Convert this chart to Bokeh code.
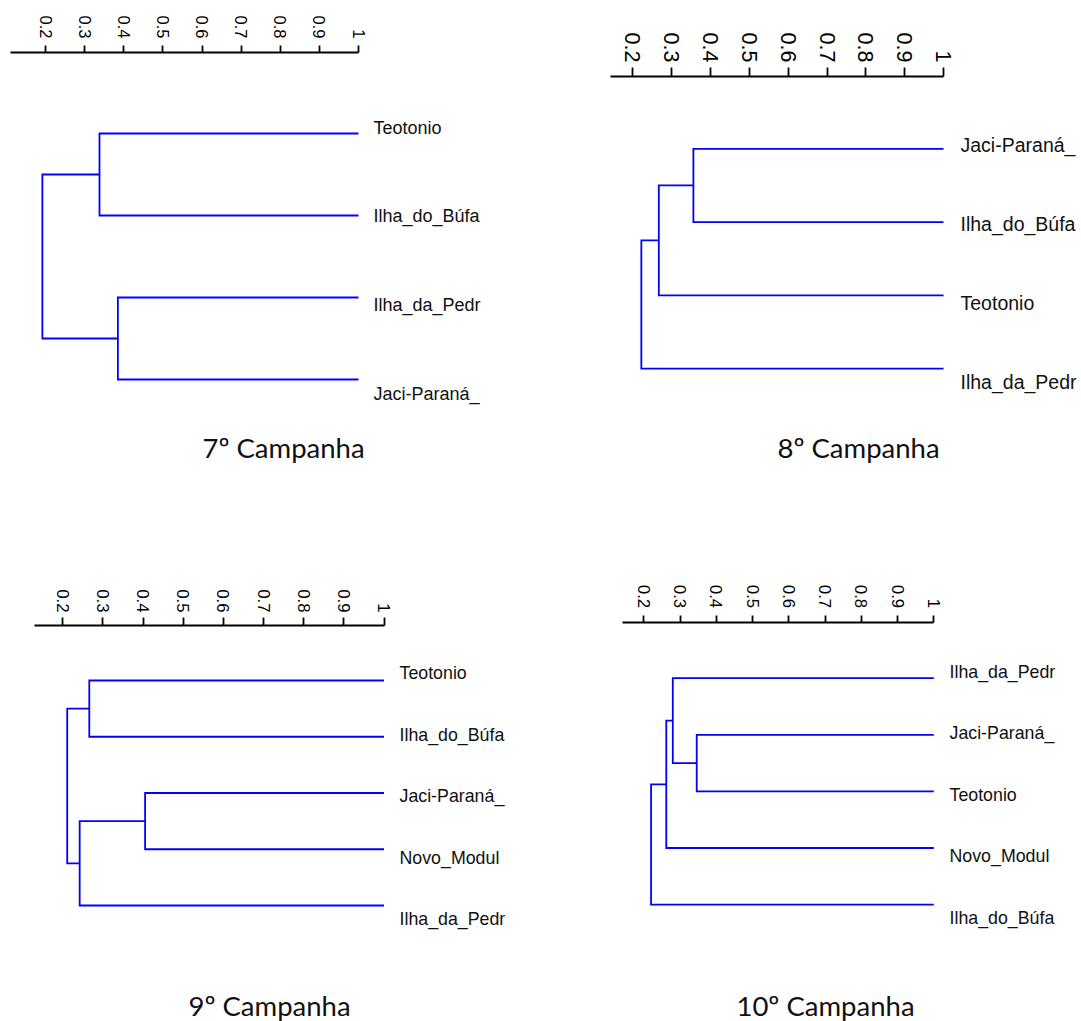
import math
from bokeh.plotting import figure
from bokeh.models import Range1d, FixedTicker, LinearAxis
from bokeh.layouts import column, row
from bokeh.embed import file_html
from bokeh.resources import INLINE
from bokeh.core.properties import value

# ---------------- data ----------------
tick_values = [0.2, 0.3, 0.4, 0.5, 0.6, 0.7, 0.8, 0.9, 1.0]
tick_labels = ["0.2", "0.3", "0.4", "0.5", "0.6", "0.7", "0.8", "0.9", "1"]
leaf_similarity = 1.0

# 7º Campanha
title_7 = "7º Campanha"
leaves_7 = ["Teotonio", "Ilha_do_Búfa", "Ilha_da_Pedr", "Jaci-Paraná_"]
join_a_7 = [0, 2, 4]
join_b_7 = [1, 3, 5]
join_sim_7 = [0.338, 0.385, 0.192]

# 8º Campanha
title_8 = "8º Campanha"
leaves_8 = ["Jaci-Paraná_", "Ilha_do_Búfa", "Teotonio", "Ilha_da_Pedr"]
join_a_8 = [0, 4, 5]
join_b_8 = [1, 2, 3]
join_sim_8 = [0.356, 0.267, 0.222]

# 9º Campanha
title_9 = "9º Campanha"
leaves_9 = ["Teotonio", "Ilha_do_Búfa", "Jaci-Paraná_", "Novo_Modul", "Ilha_da_Pedr"]
join_a_9 = [0, 2, 6, 5]
join_b_9 = [1, 3, 4, 7]
join_sim_9 = [0.266, 0.405, 0.242, 0.211]

# 10º Campanha
title_10 = "10º Campanha"
leaves_10 = ["Ilha_da_Pedr", "Jaci-Paraná_", "Teotonio", "Novo_Modul", "Ilha_do_Búfa"]
join_a_10 = [1, 0, 6, 7]
join_b_10 = [2, 5, 3, 4]
join_sim_10 = [0.346, 0.280, 0.262, 0.220]

LINE_COLOR = "#0000ff"


def build_tree(n, ja, jb, js):
    xs = [leaf_similarity] * n
    ys = list(range(n))
    px, py = [], []
    for a, b, s in zip(ja, jb, js):
        px.append([xs[a], s, s, xs[b]])
        py.append([ys[a], ys[a], ys[b], ys[b]])
        xs.append(s)
        ys.append((ys[a] + ys[b]) / 2.0)
    return px, py


def make_panel(leaves, ja, jb, js, title, L):
    w = L["right"] - L["left"]
    h = L["bottom"] - L["top"]

    def vx(page_x):
        return 0.2 + (page_x - L["x02"]) / L["ppu"]

    def vy(page_y):
        return (page_y - L["y0"]) / L["dy"]

    p = figure(width=int(round(w)), height=int(round(h)),
               output_backend="svg", toolbar_location=None, title=None,
               x_axis_location=None, y_axis_location=None,
               x_range=Range1d(vx(L["left"]), vx(L["right"])),
               y_range=Range1d(vy(L["bottom"]), vy(L["top"])),
               min_border_left=0, min_border_right=0, min_border_bottom=0,
               min_border_top=0)
    p.title_location = None
    p.outline_line_color = None
    p.grid.visible = False
    p.background_fill_color = "white"
    p.border_fill_color = "white"

    ax = LinearAxis(fixed_location=vy(L["axis_y"]))
    ax.ticker = FixedTicker(ticks=tick_values)
    ax.major_label_overrides = {t: s for t, s in zip(tick_values, tick_labels)}
    ax.minor_tick_line_color = None
    ax.major_tick_in = 0
    ax.major_tick_out = L["tick_len"]
    ax.major_label_standoff = L["standoff"]
    ax.major_label_orientation = -math.pi / 2
    ax.major_label_text_font = "Liberation Sans"
    ax.major_label_text_font_size = L["tick_font"]
    ax.major_label_text_color = "black"
    ax.axis_line_color = "black"
    ax.axis_line_width = 1.8
    ax.major_tick_line_color = "black"
    ax.major_tick_line_width = 1.8
    ax.bounds = (L["axis_start"], 1.0)
    p.add_layout(ax, "above")

    px, py = build_tree(len(leaves), ja, jb, js)
    p.multi_line(xs=px, ys=py, line_color=LINE_COLOR, line_width=1.8,
                 line_join="miter")

    n = len(leaves)
    p.text(x=[leaf_similarity] * n,
           y=[L["la"] + L["ls"] * i for i in range(n)],
           text=leaves, x_offset=L["label_off"],
           text_align="left", text_baseline="middle",
           text_font=value("Liberation Sans"),
           text_font_size=L["leaf_font"], text_color="#111111")

    p.text(x=[vx(L["title_x"])], y=[vy(L["title_y"])], text=[title],
           text_align="center", text_baseline="middle",
           text_font=value("Lato"), text_font_size="27.5px",
           text_color="#111111")
    return p


L7 = dict(left=0, right=520, top=0, bottom=500, axis_y=52, x02=45, ppu=391.25,
          y0=133, dy=82, label_off=15, title_x=283, title_y=446.5,
          tick_len=7, standoff=7, tick_font="16.5px", leaf_font="18px",
          axis_start=0.110, la=-0.072, ls=1.081)
L8 = dict(left=520, right=1081, top=0, bottom=500, axis_y=76, x02=632.3, ppu=388.4,
          y0=148.3, dy=73.3, label_off=17, title_x=858, title_y=446.5,
          tick_len=9, standoff=5, tick_font="21.5px", leaf_font="19.5px",
          axis_start=0.1425, la=-0.053, ls=1.078)
L9 = dict(left=0, right=520, top=500, bottom=1021, axis_y=625, x02=62.3, ppu=401.5,
          y0=680, dy=56.25, label_off=15.5, title_x=269, title_y=1004.5,
          tick_len=8, standoff=5, tick_font="16.8px", leaf_font="17.8px",
          axis_start=0.13, la=-0.13, ls=1.094)
L10 = dict(left=520, right=1081, top=500, bottom=1021, axis_y=621.7, x02=643.3, ppu=362.5,
           y0=677.7, dy=56.6, label_off=15.7, title_x=825, title_y=1004.5,
           tick_len=7, standoff=7, tick_font="16.8px", leaf_font="17.8px",
           axis_start=0.140, la=-0.114, ls=1.088)

p7 = make_panel(leaves_7, join_a_7, join_b_7, join_sim_7, title_7, L7)
p8 = make_panel(leaves_8, join_a_8, join_b_8, join_sim_8, title_8, L8)
p9 = make_panel(leaves_9, join_a_9, join_b_9, join_sim_9, title_9, L9)
p10 = make_panel(leaves_10, join_a_10, join_b_10, join_sim_10, title_10, L10)

layout = column(row(p7, p8), row(p9, p10))

open("out.html", "w").write(file_html(layout, INLINE))
